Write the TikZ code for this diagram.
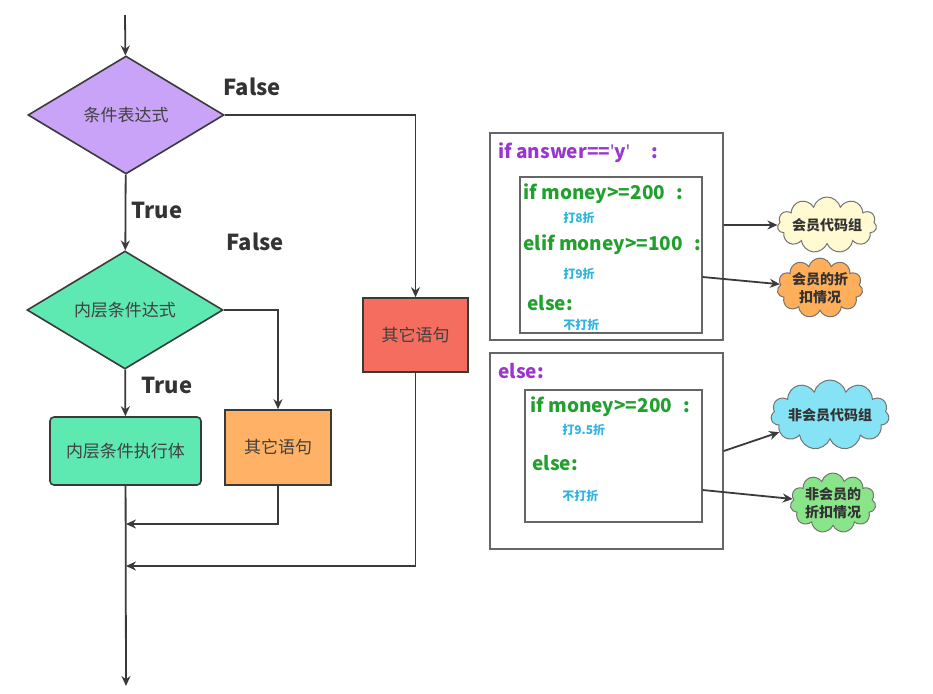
\documentclass[tikz,border=0pt]{standalone}
\usepackage{fontspec}
\setmainfont{Noto Sans CJK SC}
\newfontfamily\latinfont{Noto Sans}
\usepackage{xcolor}
\usetikzlibrary{arrows.meta,positioning,shapes.geometric,shapes.symbols}
\definecolor{condpurple}{HTML}{C9A3F7}
\definecolor{condgreen}{HTML}{5EE8B2}
\definecolor{otherorange}{HTML}{FFB266}
\definecolor{otherred}{HTML}{F56D5F}
\definecolor{codepurple}{HTML}{9B35D0}
\definecolor{codegreen}{HTML}{22A02E}
\definecolor{codecyan}{HTML}{30B4E0}
\definecolor{cloudyellow}{HTML}{FFFAD2}
\definecolor{cloudorange}{HTML}{FFAE5A}
\definecolor{cloudcyan}{HTML}{86E2F5}
\definecolor{cloudgreen}{HTML}{8AE58A}
\definecolor{linegray}{HTML}{3A3A3A}
\tikzset{
  decision/.style={diamond, draw=linegray, line width=0.8pt, inner sep=0pt,
    aspect=1.67, minimum width=98pt, minimum height=59pt,
    font=\fontsize{8.5}{10}\selectfont, text=black!75},
  block/.style={rectangle, draw=linegray, line width=0.8pt, inner sep=0pt,
    font=\fontsize{8.5}{10}\selectfont, text=black!75},
  frame/.style={rectangle, draw=black!60, line width=0.7pt, inner sep=0pt},
  code/.style={anchor=west, inner sep=0pt, font=\bfseries\fontsize{9.5}{12}\selectfont},
  note/.style={anchor=west, inner sep=0pt, text=codecyan,
    font=\bfseries\fontsize{6}{7}\selectfont},
  bubble/.style={cloud, cloud puffs=11, cloud ignores aspect, draw=black!55,
    line width=0.5pt, inner sep=0pt, align=center,
    font=\bfseries\fontsize{7}{9}\selectfont, text=black!80},
  flow/.style={draw=linegray, line width=0.9pt, -{Stealth[length=5pt,width=4.5pt]}},
  lbl/.style={font=\bfseries\fontsize{11}{13}\selectfont, text=black!80},
}

\begin{document}
\begin{tikzpicture}[x=0.5pt, y=-0.5pt]
  \useasboundingbox (0,0) rectangle (933,693);
  \node[decision, fill=condpurple] (cond) at (126,115) {条件表达式};
  \node[decision, fill=condgreen] (inner) at (125,310) {内层条件达式};
  \node[block, fill=condgreen, rounded corners=2pt, minimum width=75.5pt,
    minimum height=34pt] (body) at (125.5,451) {内层条件执行体};
  \node[block, fill=otherorange, minimum width=53pt, minimum height=37.5pt]
    (otherO) at (278,447.5) {其它语句};
  \node[block, fill=otherred, minimum width=52.5pt, minimum height=37pt]
    (otherR) at (415.5,335) {其它语句};
  \node[lbl] (falseA) at (252,87) {False};
  \node[lbl] (trueA) at (157,210) {True};
  \node[lbl] (falseB) at (255,242) {False};
  \node[lbl] (trueB) at (167,385) {True};
  \coordinate (start) at (125,15);
  \coordinate (mergeO) at (126,524);
  \coordinate (mergeR) at (126,566);
  \coordinate (stop) at (126,686);
  \draw[flow] (start) -- (cond);
  \draw[flow] (cond) -- (inner);
  \draw[flow] (cond.east) -| (otherR);
  \draw[flow] (inner.east) -| (otherO);
  \draw[flow] (inner) -- (body);
  \draw[flow] (otherO) |- (mergeO);
  \draw[flow] (otherR) |- (mergeR);
  \draw[flow] (body) -- (stop);

  \node[frame, minimum width=116.5pt, minimum height=103.5pt] (outerA) at (606.5,236.5) {};
  \node[frame, minimum width=91pt, minimum height=78pt] (innerA) at (611,255) {};
  \node[frame, minimum width=116.5pt, minimum height=98pt] (outerB) at (606.5,451) {};
  \node[frame, minimum width=88.5pt, minimum height=66pt] (innerB) at (613.5,456) {};
  \node[code, text=codepurple] (askA) at (498,153)
    {if answer=={\latinfont'}y{\latinfont'}\hspace{1.1em}:};
  \node[code, text=codegreen] (ifA) at (523,194) {if money>=200\hspace{0.6em}:};
  \node[note] (noteA) at (563,218) {打8折};
  \node[code, text=codegreen] (elifA) at (523,245) {elif money>=100\hspace{0.6em}:};
  \node[note] (noteB) at (563,274) {打9折};
  \node[code, text=codegreen] (elseA) at (527,303) {else:};
  \node[note] (noteC) at (563,325) {不打折};
  \node[code, text=codepurple] (askB) at (498,371) {else:};
  \node[code, text=codegreen] (ifB) at (530,407) {if money>=200\hspace{0.6em}:};
  \node[note] (noteD) at (562,430) {打9.5折};
  \node[code, text=codegreen] (elseB) at (532,463) {else:};
  \node[note] (noteE) at (562,496) {不打折};

  \node[bubble, fill=cloudyellow, minimum width=42.5pt, minimum height=28pt]
    (memberCloud) at (827,225) {会员代码组};
  \node[bubble, fill=cloudorange, minimum width=40pt, minimum height=27pt]
    (discCloud) at (820,288) {会员的折\\扣情况};
  \node[bubble, fill=cloudcyan, minimum width=52pt, minimum height=35pt]
    (nonCloud) at (830,415) {非会员代码组};
  \node[bubble, fill=cloudgreen, minimum width=36pt, minimum height=30pt]
    (nonDiscCloud) at (833,503) {非会员的\\折扣情况};
  \draw[flow] (outerA.east |- memberCloud) -- (memberCloud);
  \draw[flow] ([yshift=-11pt]innerA.east) -- (discCloud);
  \draw[flow] (outerB.east) -- (nonCloud);
  \draw[flow] ([yshift=-17pt]innerB.east) -- (nonDiscCloud);
\end{tikzpicture}
\end{document}
